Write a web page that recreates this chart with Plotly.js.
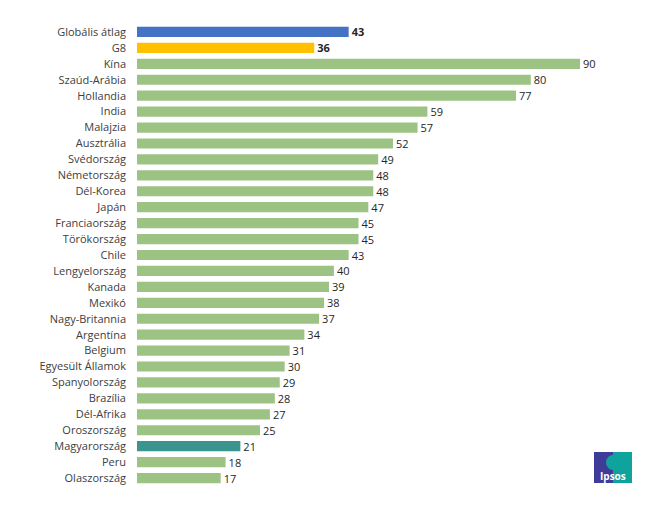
<!DOCTYPE html>
<html><head><meta charset="utf-8">
<script src="https://cdn.plot.ly/plotly-3.0.1.min.js"></script>
<style>html,body{margin:0;padding:0;background:#fff}</style>
</head><body>
<div id="chart" style="width:670px;height:506px"></div>
<script>
const categories = ["Globális átlag","G8","Kína","Szaúd-Arábia","Hollandia","India","Malajzia","Ausztrália","Svédország","Németország","Dél-Korea","Japán","Franciaország","Törökország","Chile","Lengyelország","Kanada","Mexikó","Nagy-Britannia","Argentína","Belgium","Egyesült Államok","Spanyolország","Brazília","Dél-Afrika","Oroszország","Magyarország","Peru","Olaszország"];
const values = [43,36,90,80,77,59,57,52,49,48,48,47,45,45,43,40,39,38,37,34,31,30,29,28,27,25,21,18,17];
const boldCategories = ["Globális átlag","G8"];
const colorFor = {"Globális átlag":"#4472C4","G8":"#FFC000","Magyarország":"#3A9591"};
const defaultColor = "#9DC384";

const colors = categories.map(c => colorFor[c] || defaultColor);
const texts = categories.map((c,i) => boldCategories.includes(c) ? "<b>"+values[i]+"</b>" : String(values[i]));

const W = 443, H = 462, L = 137, T = 24;
const px = x => (x - L) / W;
const py = y => (T + H - y) / H;

Plotly.newPlot("chart", [{
  type: "bar",
  orientation: "h",
  y: categories,
  x: values,
  marker: {color: colors},
  width: 0.64,
  text: texts,
  textposition: "outside",
  constraintext: "none",
  cliponaxis: false,
  textfont: {family: "Open Sans, sans-serif", size: 11, color: "#262626"},
  hoverinfo: "none"
}], {
  width: 670, height: 506,
  margin: {l: L, r: 670 - L - W, t: T, b: 506 - T - H},
  paper_bgcolor: "#fff", plot_bgcolor: "#fff",
  showlegend: false,
  uniformtext: {mode: false},
  xaxis: {range: [0, 90], visible: false, fixedrange: true},
  yaxis: {autorange: "reversed", showline: false, showgrid: false, zeroline: false,
          ticks: "", ticklen: 0, ticklabelstandoff: 10,
          tickfont: {family: "Open Sans, sans-serif", size: 11, color: "#404040"},
          automargin: false, fixedrange: true},
  font: {family: "Open Sans, sans-serif"},
  shapes: [
    {type: "rect", xref: "paper", yref: "paper", x0: px(594), x1: px(613), y0: py(483), y1: py(452), fillcolor: "#3E3C98", line: {width: 0}, layer: "above"},
    {type: "rect", xref: "paper", yref: "paper", x0: px(613), x1: px(632), y0: py(483), y1: py(452), fillcolor: "#0FA39E", line: {width: 0}, layer: "above"},
    {type: "circle", xref: "paper", yref: "paper", x0: px(606), x1: px(620), y0: py(470), y1: py(455), fillcolor: "#0FA39E", line: {width: 0}, layer: "above"}
  ],
  annotations: [
    {xref: "paper", yref: "paper", x: px(613), y: py(476), text: "<b>Ipsos</b>", showarrow: false,
     font: {family: "Open Sans, sans-serif", size: 10, color: "#ffffff"}, xanchor: "center", yanchor: "middle"}
  ]
}, {displayModeBar: false, staticPlot: true});
</script>
</body></html>
